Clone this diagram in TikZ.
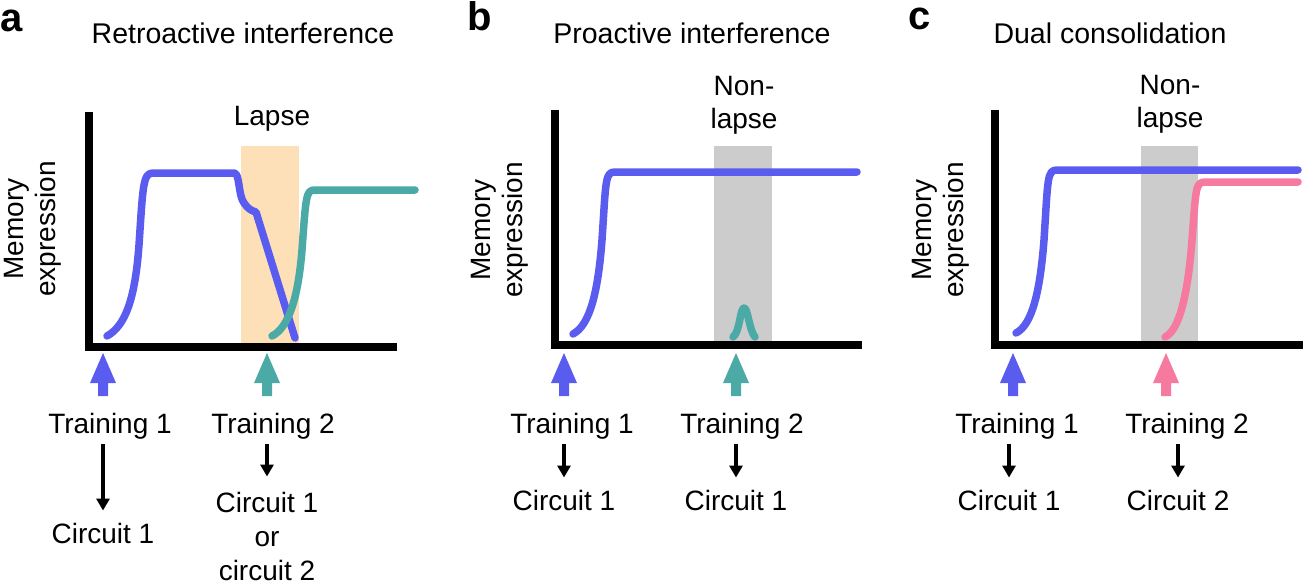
\documentclass[tikz,border=0pt]{standalone}
\usepackage{fontspec}
\setmainfont{Liberation Sans}
\usetikzlibrary{arrows.meta}
\definecolor{cblue}{RGB}{90,92,240}
\definecolor{cteal}{RGB}{76,170,166}
\definecolor{cpink}{RGB}{246,122,160}
\definecolor{corange}{RGB}{253,224,184}
\definecolor{cgray}{RGB}{204,204,204}
\begin{document}
\begin{tikzpicture}[x=1pt,y=-1pt,
  txt/.style={font=\fontsize{28}{33}\selectfont, inner sep=0pt, anchor=base},
  ttl/.style={font=\fontsize{28.5}{33}\selectfont, inner sep=0pt, anchor=base},
  plabel/.style={font=\fontsize{40}{44}\selectfont\bfseries, inner sep=0pt, anchor=base west},
  ylab/.style={font=\fontsize{28}{32}\selectfont, inner sep=0pt, rotate=90, align=center},
  curve/.style={line width=7.5pt, line cap=round, line join=round},
  axisline/.style={line width=7.5pt, line join=miter, line cap=butt, black},
  darr/.style={line width=3.5pt, -{Triangle[length=12pt, width=13pt]}, shorten <=5pt, shorten >=12pt},
  uparrow/.pic={\fill[pic actions] (0,0) -- (-13,30) -- (-5,30) -- (-5,43) -- (5,43) -- (5,30) -- (13,30) -- cycle;}]
\useasboundingbox (0,0) rectangle (1305,584);

% ---------- panel a ----------
\node[plabel] (la) at (0,31) {a};
\node[ttl] (ta) at (243,43) {Retroactive interference};
\fill[corange] (241,146) rectangle (299,347);
\node[txt] (lapse) at (272,125) {Lapse};
\draw[curve, cblue] (107,336) .. controls (125,326) and (135,300) .. (139,245) .. controls (143,185) and (143,173) .. (153,173) -- (234,173) .. controls (240,173) and (238,195) .. (244,203) .. controls (248,209) and (252,211) .. (256,212) -- (295,338);
\draw[curve, cteal] (272,336) .. controls (288,328) and (298,300) .. (302,250) .. controls (306,195) and (306,190) .. (315,190) -- (415,190);
\draw[axisline] (89,112) -- (89,347) -- (397,347);
\node[ylab] (ya) at (33,229) {Memory\\expression};
\pic[fill=cblue] at (103,353) {uparrow};
\pic[fill=cteal] at (267,353) {uparrow};
\node[txt] (tra1) at (110,433) {Training 1};
\node[txt] (tra2) at (273,433) {Training 2};
\node[txt] (cia1) at (103,543) {Circuit 1};
\node[txt, align=center, font=\fontsize{28}{34}\selectfont] (cia2) at (267,580) {Circuit 1\\or\\circuit 2};
\draw[darr] (tra1.south -| cia1) -- (cia1.north);
\draw[darr, shorten >=15pt] (tra2.south -| cia2) -- (cia2.north);

% ---------- panel b ----------
\node[plabel] (lb) at (467,30) {b};
\node[ttl] (tb) at (692,43) {Proactive interference};
\fill[cgray] (714,146) rectangle (772,345);
\node[txt, align=center] (nlb) at (744,128) {Non-\\lapse};
\draw[curve, cblue] (573,334) .. controls (590,325) and (598,292) .. (602,240) .. controls (606,180) and (605,172) .. (615,172) -- (857,172);
\draw[curve, cteal] (733,337) .. controls (740,332) and (740,308) .. (744,308) .. controls (748,308) and (749,330) .. (755,337);
\draw[axisline] (555,110) -- (555,345) -- (862,345);
\node[ylab] (yb) at (500,230) {Memory\\expression};
\pic[fill=cblue] at (564,353) {uparrow};
\pic[fill=cteal] at (736,353) {uparrow};
\node[txt] (trb1) at (572,433) {Training 1};
\node[txt] (trb2) at (742,433) {Training 2};
\node[txt] (cib1) at (564,510) {Circuit 1};
\node[txt] (cib2) at (736,510) {Circuit 1};
\draw[darr] (trb1.south -| cib1) -- (cib1.north);
\draw[darr] (trb2.south -| cib2) -- (cib2.north);

% ---------- panel c ----------
\node[plabel] (lc) at (908,29) {c};
\node[ttl] (tc) at (1110,43) {Dual consolidation};
\fill[cgray] (1141,146) rectangle (1198,345);
\node[txt, align=center] (nlc) at (1170,127) {Non-\\lapse};
\draw[curve, cblue] (1016,333) .. controls (1032,325) and (1040,292) .. (1044,240) .. controls (1048,178) and (1047,170) .. (1057,170) -- (1298,170);
\draw[curve, cpink] (1165,337) .. controls (1180,330) and (1188,292) .. (1192,240) .. controls (1196,190) and (1195,182) .. (1205,182) -- (1298,182);
\draw[axisline] (995,110) -- (995,345) -- (1303,345);
\node[ylab] (yc) at (941,230) {Memory\\expression};
\pic[fill=cblue] at (1013,353) {uparrow};
\pic[fill=cpink] at (1166,353) {uparrow};
\node[txt] (trc1) at (1017,433) {Training 1};
\node[txt] (trc2) at (1187,433) {Training 2};
\node[txt] (cic1) at (1009,510) {Circuit 1};
\node[txt] (cic2) at (1178,510) {Circuit 2};
\draw[darr] (trc1.south -| cic1) -- (cic1.north);
\draw[darr] (trc2.south -| cic2) -- (cic2.north);
\end{tikzpicture}
\end{document}
